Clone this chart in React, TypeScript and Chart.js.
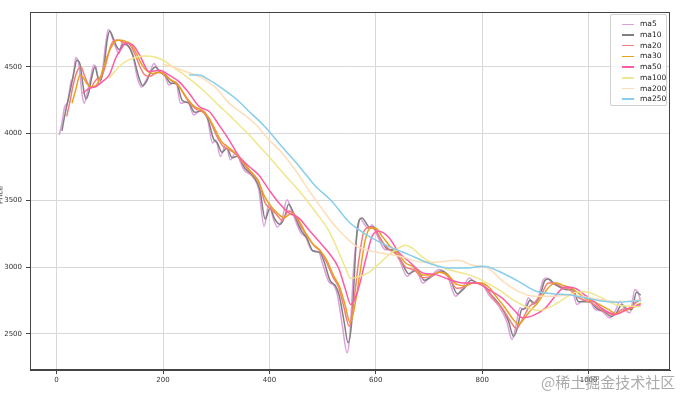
import React, { useEffect, useRef } from 'react';
import { Chart, registerables } from 'chart.js';

Chart.register(...registerables);

const xTicks = [0, 200, 400, 600, 800, 1000];
const yTicks = [2500, 3000, 3500, 4000, 4500];
const names = ['ma5', 'ma10', 'ma20', 'ma30', 'ma50', 'ma100', 'ma200', 'ma250'];
const colors = ['#DDA0DD', '#808080', '#F47C7C', '#E8A020', '#FF5AA5', '#F0E68C', '#FFDDB8', '#87CEEB'];

const ma5: [number, number][] = [
  [5, 3990], [10, 4080], [15, 4200], [21, 4240], [27, 4390], [31, 4420], [36, 4570], [42, 4515], [48, 4290], [52, 4228],
  [58, 4315], [64, 4420], [70, 4515], [74, 4500], [80, 4370], [86, 4465], [92, 4665], [97, 4780], [101, 4760], [105, 4715],
  [111, 4650], [117, 4600], [124, 4690], [133, 4665], [143, 4590], [152, 4415], [160, 4350], [168, 4400], [174, 4440], [183, 4525],
  [192, 4465], [203, 4440], [211, 4365], [224, 4390], [233, 4228], [246, 4240], [258, 4140], [271, 4178], [283, 4128], [293, 3930],
  [299, 3954], [308, 3829], [318, 3916], [327, 3804], [336, 3854], [352, 3729], [368, 3679], [380, 3580], [390, 3305], [399, 3470],
  [408, 3355], [415, 3300], [424, 3361], [433, 3505], [443, 3411], [458, 3262], [468, 3225], [480, 3125], [493, 3112], [499, 3037],
  [512, 2888], [521, 2863], [528, 2788], [537, 2563], [546, 2357], [551, 2480], [559, 3030], [565, 3250], [571, 3361], [580, 3312],
  [587, 3287], [593, 3317], [602, 3242], [618, 3130], [631, 3130], [644, 3055], [659, 2931], [675, 2993], [688, 2881], [706, 2943],
  [719, 2981], [735, 2931], [750, 2781], [763, 2844], [776, 2918], [788, 2881], [800, 2870], [812, 2794], [831, 2707], [846, 2594],
  [856, 2457], [862, 2532], [871, 2694], [878, 2682], [887, 2769], [896, 2719], [906, 2781], [915, 2906], [921, 2918], [931, 2881],
  [943, 2856], [956, 2831], [968, 2843], [978, 2719], [987, 2744], [1000, 2757], [1012, 2682], [1025, 2669], [1040, 2619], [1050, 2669],
  [1059, 2744], [1068, 2682], [1078, 2657], [1087, 2831], [1093, 2806], [1098, 2744],
];

const ma10: [number, number][] = [
  [10, 4020], [16, 4150], [22, 4260], [28, 4370], [33, 4470], [38, 4550], [44, 4520], [50, 4350], [55, 4260], [60, 4300],
  [66, 4420], [72, 4500], [78, 4420], [83, 4400], [89, 4500], [95, 4700], [100, 4770], [106, 4720], [112, 4660], [118, 4630],
  [125, 4670], [134, 4660], [144, 4580], [154, 4430], [162, 4360], [170, 4400], [178, 4470], [186, 4500], [195, 4460], [205, 4430],
  [214, 4380], [226, 4370], [236, 4250], [248, 4230], [260, 4160], [272, 4170], [285, 4100], [295, 3960], [302, 3930], [311, 3860],
  [320, 3890], [330, 3820], [340, 3830], [354, 3740], [370, 3680], [382, 3580], [392, 3360], [401, 3440], [410, 3360], [420, 3320],
  [429, 3380], [436, 3470], [446, 3400], [459, 3280], [470, 3220], [482, 3120], [495, 3110], [502, 3050], [514, 2900], [524, 2860],
  [531, 2790], [540, 2600], [548, 2432], [555, 2600], [565, 3280], [574, 3368], [588, 3300], [596, 3300], [605, 3240], [620, 3140],
  [634, 3120], [647, 3050], [662, 2950], [678, 2980], [691, 2900], [709, 2940], [722, 2970], [738, 2930], [753, 2800], [766, 2840],
  [779, 2900], [791, 2880], [803, 2860], [815, 2800], [834, 2710], [849, 2600], [859, 2480], [866, 2540], [874, 2680], [881, 2690],
  [890, 2750], [899, 2730], [909, 2790], [918, 2900], [925, 2910], [934, 2880], [946, 2850], [959, 2830], [971, 2830], [981, 2740],
  [990, 2740], [1003, 2740], [1015, 2690], [1028, 2670], [1043, 2630], [1053, 2660], [1062, 2720], [1071, 2690], [1081, 2680], [1090, 2810],
  [1098, 2790],
];

const ma20: [number, number][] = [
  [19, 4130], [25, 4240], [32, 4380], [40, 4480], [46, 4500], [52, 4440], [58, 4380], [64, 4340], [70, 4380], [76, 4410],
  [82, 4420], [88, 4460], [95, 4560], [102, 4660], [110, 4700], [118, 4700], [126, 4680], [134, 4680], [142, 4640], [150, 4570],
  [158, 4490], [166, 4440], [175, 4430], [185, 4450], [195, 4460], [205, 4440], [215, 4400], [228, 4370], [240, 4290], [252, 4220],
  [264, 4180], [276, 4160], [288, 4100], [300, 3990], [312, 3910], [324, 3880], [336, 3850], [350, 3780], [365, 3710], [380, 3640],
  [392, 3480], [402, 3440], [412, 3400], [424, 3350], [436, 3420], [448, 3390], [460, 3300], [472, 3230], [484, 3160], [496, 3120],
  [508, 3030], [520, 2920], [530, 2850], [540, 2700], [550, 2556], [558, 2720], [568, 3050], [578, 3270], [590, 3300], [600, 3270],
  [612, 3190], [626, 3130], [640, 3090], [656, 3000], [672, 2980], [688, 2920], [704, 2930], [720, 2960], [736, 2930], [752, 2840],
  [766, 2850], [780, 2880], [794, 2880], [808, 2840], [822, 2760], [838, 2690], [852, 2600], [864, 2540], [876, 2610], [888, 2700],
  [900, 2740], [912, 2800], [924, 2880], [936, 2880], [950, 2850], [964, 2830], [978, 2780], [992, 2750], [1006, 2730], [1020, 2690],
  [1034, 2660], [1048, 2640], [1062, 2680], [1076, 2690], [1088, 2730], [1098, 2760],
];

const ma30: [number, number][] = [
  [29, 4228], [36, 4330], [44, 4440], [50, 4420], [58, 4370], [66, 4350], [74, 4360], [82, 4420], [90, 4520], [98, 4610],
  [106, 4670], [114, 4700], [122, 4700], [130, 4690], [140, 4670], [150, 4600], [160, 4520], [170, 4470], [180, 4450], [190, 4460],
  [200, 4450], [212, 4410], [224, 4380], [236, 4320], [248, 4250], [260, 4200], [272, 4180], [286, 4120], [298, 4030], [310, 3940],
  [322, 3900], [334, 3860], [348, 3800], [362, 3730], [378, 3650], [392, 3520], [404, 3450], [416, 3400], [428, 3370], [440, 3400],
  [452, 3370], [466, 3270], [480, 3180], [494, 3130], [508, 3050], [520, 2940], [532, 2850], [542, 2720], [552, 2581], [560, 2700],
  [570, 2950], [580, 3200], [590, 3290], [600, 3290], [612, 3230], [626, 3160], [640, 3110], [656, 3030], [672, 3000], [688, 2940],
  [704, 2940], [720, 2960], [736, 2940], [752, 2870], [768, 2860], [784, 2880], [798, 2880], [812, 2850], [826, 2780], [842, 2700],
  [856, 2620], [868, 2570], [880, 2620], [892, 2680], [904, 2730], [916, 2800], [928, 2860], [940, 2880], [954, 2860], [968, 2840],
  [982, 2800], [996, 2760], [1010, 2740], [1024, 2710], [1038, 2680], [1052, 2650], [1066, 2670], [1080, 2690], [1098, 2730],
];

const ma50: [number, number][] = [
  [49, 4303], [61, 4340], [74, 4353], [86, 4390], [99, 4440], [111, 4565], [122, 4640], [130, 4677], [143, 4665], [156, 4590],
  [174, 4465], [193, 4475], [211, 4440], [230, 4390], [249, 4303], [268, 4203], [287, 4166], [305, 4066], [324, 3954], [343, 3829],
  [362, 3754], [380, 3690], [399, 3580], [418, 3480], [437, 3405], [455, 3368], [474, 3280], [493, 3193], [512, 3105], [530, 2993],
  [543, 2831], [553, 2719], [565, 2806], [581, 3056], [593, 3230], [606, 3268], [625, 3220], [644, 3105], [662, 3043], [688, 2956],
  [713, 2943], [738, 2906], [763, 2881], [788, 2880], [812, 2831], [837, 2769], [862, 2669], [875, 2620], [893, 2632], [919, 2694],
  [937, 2781], [956, 2850], [975, 2840], [993, 2790], [1010, 2740], [1025, 2690], [1050, 2645], [1075, 2690], [1098, 2719],
];

const ma100: [number, number][] = [
  [99, 4415], [110, 4470], [121, 4515], [132, 4545], [143, 4565], [155, 4578], [165, 4582], [183, 4577], [199, 4552], [213, 4515],
  [227, 4478], [252, 4403], [277, 4320], [305, 4210], [324, 4141], [343, 4065], [362, 3992], [380, 3910], [399, 3829], [418, 3740],
  [437, 3654], [456, 3570], [474, 3480], [493, 3380], [512, 3270], [531, 3105], [545, 2975], [552, 2915], [570, 2930], [587, 2960],
  [605, 3020], [624, 3090], [640, 3135], [655, 3163], [668, 3143], [686, 3080], [711, 3018], [736, 2981], [774, 2943], [800, 2900],
  [831, 2830], [862, 2744], [887, 2694], [906, 2674], [931, 2707], [956, 2769], [975, 2810], [993, 2815], [1025, 2769], [1050, 2719],
  [1075, 2707], [1098, 2702],
];

const ma200: [number, number][] = [
  [199, 4520], [225, 4490], [250, 4455], [275, 4415], [300, 4340], [325, 4225], [350, 4150], [375, 4065], [400, 3950], [425, 3850],
  [450, 3720], [475, 3570], [500, 3430], [525, 3300], [550, 3200], [562, 3160], [587, 3123], [618, 3100], [650, 3075], [681, 3040],
  [705, 3035], [725, 3040], [749, 3050], [762, 3045], [780, 3015], [812, 2990], [837, 2900], [868, 2818], [900, 2781], [931, 2781],
  [962, 2790], [993, 2775], [1025, 2755], [1056, 2740], [1087, 2748], [1100, 2757],
];

const ma250: [number, number][] = [
  [249, 4440], [268, 4440], [286, 4405], [311, 4340], [336, 4265], [361, 4170], [392, 4050], [424, 3900], [455, 3760], [486, 3610],
  [518, 3490], [549, 3340], [568, 3280], [587, 3230], [624, 3155], [662, 3093], [699, 3030], [737, 2993], [774, 2993], [799, 3006],
  [812, 3000], [831, 2968], [868, 2893], [900, 2820], [931, 2800], [962, 2793], [993, 2770], [1025, 2745], [1056, 2736], [1081, 2744],
  [1098, 2749],
];

const series = [ma5, ma10, ma20, ma30, ma50, ma100, ma200, ma250];

const framePlugin = {
  id: 'frame',
  afterDraw(chart: any) {
    const { ctx, chartArea } = chart;
    const yScale = chart.scales.y;
    ctx.save();
    ctx.strokeStyle = '#444';
    ctx.lineWidth = 1;
    ctx.strokeRect(
      Math.round(chartArea.left) + 0.5,
      Math.round(chartArea.top) + 0.5,
      Math.round(chartArea.right - chartArea.left) - 1,
      Math.round(chartArea.bottom - chartArea.top) - 1
    );
    ctx.font = '7px "DejaVu Sans"';
    ctx.fillStyle = '#333';
    ctx.textAlign = 'right';
    ctx.textBaseline = 'middle';
    yTicks.forEach((v) => {
      ctx.fillText(String(v), chartArea.left - 8, yScale.getPixelForValue(v));
    });
    ctx.restore();
  },
};

const tickFont = { family: 'DejaVu Sans', size: 7 };

export default function App() {
  const ref = useRef<HTMLCanvasElement>(null);

  useEffect(() => {
    document.body.style.margin = '0';
    const chart = new Chart(ref.current as HTMLCanvasElement, {
      type: 'line',
      data: {
        datasets: series.map((s, i) => ({
          label: names[i],
          data: s.map(([x, y]) => ({ x, y })),
          borderColor: colors[i],
          backgroundColor: colors[i],
          borderWidth: 1.5,
          pointRadius: 0,
          fill: false,
          cubicInterpolationMode: 'monotone' as const,
          order: series.length - 1 - i,
        })),
      },
      options: {
        responsive: false,
        animation: false,
        layout: { padding: { top: 12, right: 13, left: 0, bottom: 0 } },
        plugins: { legend: { display: false }, tooltip: { enabled: false } },
        scales: {
          x: {
            type: 'linear',
            min: -50,
            max: 1153,
            afterBuildTicks: (a: any) => {
              a.ticks = xTicks.map((v) => ({ value: v }));
            },
            afterFit: (s: any) => {
              s.height = 25;
            },
            ticks: { font: tickFont, color: '#333', padding: 2, maxRotation: 0, callback: (v: any) => String(v) },
            grid: { color: '#d8d8d8', lineWidth: 1, tickColor: '#444', tickLength: 4, drawTicks: true },
            border: { display: true, color: '#444' },
          },
          y: {
            type: 'linear',
            min: 2228,
            max: 4912,
            afterBuildTicks: (a: any) => {
              a.ticks = yTicks.map((v) => ({ value: v }));
            },
            afterFit: (s: any) => {
              s.width = 30;
            },
            ticks: { display: false },
            grid: { color: '#d8d8d8', lineWidth: 1, tickColor: '#444', tickLength: 4, drawTicks: true },
            border: { display: true, color: '#444' },
          },
        },
      },
      plugins: [framePlugin],
    });
    return () => chart.destroy();
  }, []);

  return (
    <div style={{ position: 'relative', width: 683, height: 395, overflow: 'hidden', background: '#fff' }}>
      <canvas ref={ref} width={683} height={395} style={{ display: 'block' }} />
      <div
        style={{
          position: 'absolute',
          left: -0.5,
          top: 195,
          transform: 'translate(-50%, -50%) rotate(-90deg)',
          font: '7.5px "DejaVu Sans"',
          color: '#222',
          whiteSpace: 'nowrap',
        }}
      >
        Price
      </div>
      <div
        style={{
          position: 'absolute',
          left: 610,
          top: 14,
          width: 57,
          height: 92,
          border: '1px solid #d0d0d0',
          borderRadius: 2,
          background: 'rgba(255,255,255,0.8)',
          boxSizing: 'border-box',
        }}
      >
        {names.map((n, i) => (
          <div key={n} style={{ position: 'absolute', left: 0, top: 4.3 + 10.7 * i, height: 10, width: 56 }}>
            <div style={{ position: 'absolute', left: 11, top: 4.25, width: 12, height: 1.5, background: colors[i] }} />
            <div
              style={{
                position: 'absolute',
                left: 29,
                top: 0,
                lineHeight: '10px',
                font: '7.5px "DejaVu Sans"',
                color: '#222',
                whiteSpace: 'nowrap',
              }}
            >
              {n}
            </div>
          </div>
        ))}
      </div>
      <div
        style={{
          position: 'absolute',
          left: 541,
          top: 373,
          font: '15px "Noto Sans CJK SC"',
          lineHeight: '18px',
          color: 'rgba(150,150,150,0.8)',
          whiteSpace: 'nowrap',
        }}
      >
        @稀土掘金技术社区
      </div>
    </div>
  );
}
